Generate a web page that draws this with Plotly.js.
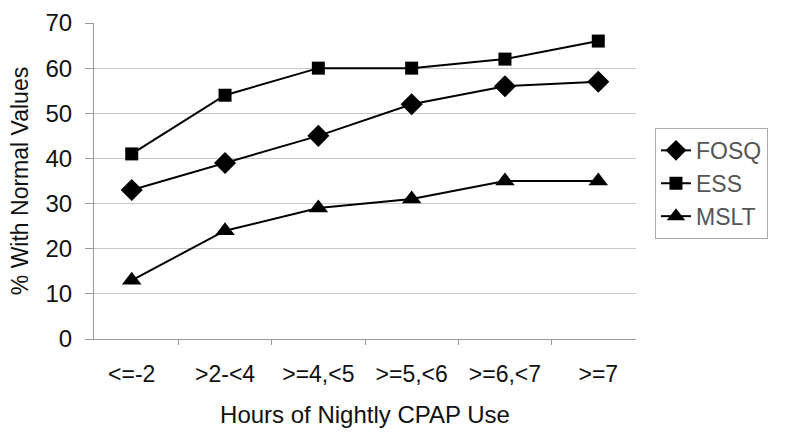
<!DOCTYPE html>
<html>
<head>
<meta charset="utf-8">
<script src="https://cdn.plot.ly/plotly-3.0.1.min.js"></script>
<style>html,body{margin:0;padding:0;background:#fff;}#chart{width:800px;height:440px;}</style>
</head>
<body>
<div id="chart"></div>
<script>
const categories = ["<=-2", ">2-<4", ">=4,<5", ">=5,<6", ">=6,<7", ">=7"];
const fosq = [33, 39, 45, 52, 56, 57];
const ess = [41, 54, 60, 60, 62, 66];
const mslt = [13, 24, 29, 31, 35, 35];

const FONT = "Liberation Sans, Arial, sans-serif";
function tr(name, y, symbol, size) {
  return {
    type: "scatter", mode: "lines+markers", name: name,
    x: categories, y: y,
    line: {color: "#000", width: 2},
    marker: {symbol: symbol, size: size, color: "#000"}
  };
}
const data = [
  tr("FOSQ", fosq, "diamond", 17),
  tr("ESS", ess, "square", 13),
  tr("MSLT", mslt, "triangle-up", 17)
];
const layout = {
  width: 800, height: 440,
  margin: {l: 94, r: 164, t: 23, b: 101},
  paper_bgcolor: "#fff", plot_bgcolor: "#fff",
  font: {family: FONT, color: "#111"},
  showlegend: true,
  legend: {
    x: 1.035, y: 0.668, xanchor: "left", yanchor: "top",
    bordercolor: "#aaa", borderwidth: 1, bgcolor: "#fff",
    font: {family: FONT, size: 23, color: "#555"},
    tracegroupgap: 0
  },
  xaxis: {
    type: "category",
    tickson: "boundaries", ticks: "outside", ticklen: 5, tickcolor: "#999",
    showline: true, linecolor: "#999", linewidth: 1,
    showgrid: false, zeroline: false,
    tickfont: {family: FONT, size: 23, color: "#111"},
    ticklabelstandoff: 14,
    title: {text: "Hours of Nightly CPAP Use", font: {family: FONT, size: 24, color: "#111"}, standoff: 20}
  },
  yaxis: {
    range: [0, 70], dtick: 10, tick0: 0,
    ticks: "outside", ticklen: 8, tickcolor: "#999",
    showline: true, linecolor: "#999", linewidth: 1,
    gridcolor: "#c8c8c8", gridwidth: 1, zeroline: false,
    tickfont: {family: FONT, size: 24, color: "#111"},
    ticklabelstandoff: 8,
    title: {text: "% With Normal Values", font: {family: FONT, size: 23, color: "#111"}, standoff: 10}
  }
};
Plotly.newPlot("chart", data, layout, {staticPlot: true, displayModeBar: false});
</script>
</body>
</html>
